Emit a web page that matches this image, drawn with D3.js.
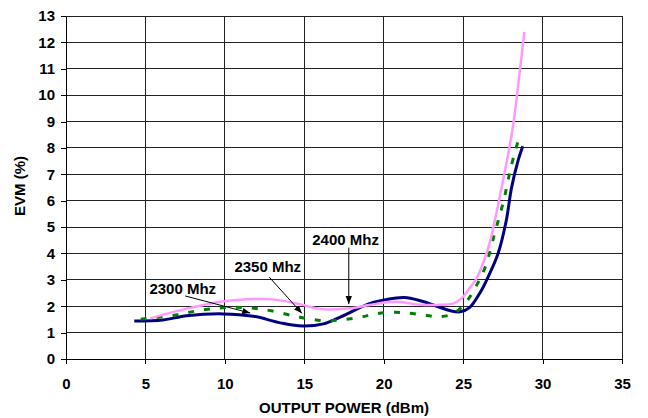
<!DOCTYPE html>
<html>
<head>
<meta charset="utf-8">
<script src="https://cdn.jsdelivr.net/npm/d3@7"></script>
<style>
  html, body { margin: 0; padding: 0; background: #fff; }
  svg { display: block; }
  text { font-family: "Liberation Sans", Arial, sans-serif; font-weight: bold; fill: #000; }
</style>
</head>
<body>
<svg id="chart" width="648" height="418"></svg>
<script>
// ---- data ----
const xTicks = [0, 5, 10, 15, 20, 25, 30, 35];
const yTicks = [0, 1, 2, 3, 4, 5, 6, 7, 8, 9, 10, 11, 12, 13];
const xTitle = "OUTPUT POWER (dBm)";
const yTitle = "EVM (%)";

const seriesNames = ["2300 Mhz", "2350 Mhz", "2400 Mhz"];

const power2300 = [4.3, 6.1, 7.6, 9.9, 11.8, 13.5, 14.9, 16.2, 17.3, 19.1, 20.2, 21.3, 22.3, 23.3, 24.2, 24.8, 25.4, 26.1, 26.6, 27.2, 27.7, 28.05, 28.45, 28.75];
const evm2300   = [1.44, 1.48, 1.64, 1.71, 1.62, 1.37, 1.25, 1.33, 1.60, 2.10, 2.26, 2.33, 2.21, 2.01, 1.83, 1.79, 1.95, 2.55, 3.15, 4.0, 5.2, 6.5, 7.5, 8.06];

const power2350 = [4.7, 6.8, 8.6, 10.5, 12.4, 14.3, 15.5, 16.6, 18.5, 19.4, 20.5, 21.4, 22.5, 23.5, 24.4, 25.2, 25.85, 26.4, 27.0, 27.55, 28.0, 28.55];
const evm2350   = [1.51, 1.66, 1.86, 1.96, 1.88, 1.64, 1.50, 1.45, 1.58, 1.70, 1.77, 1.75, 1.67, 1.60, 1.73, 2.17, 2.8, 3.5, 4.8, 6.0, 7.25, 8.45];

const power2400 = [5.3, 7.4, 8.6, 9.7, 11.4, 13.0, 14.7, 16.0, 17.9, 19.1, 20.8, 22.1, 23.3, 24.4, 24.9, 25.4, 25.85, 26.6, 27.0, 27.6, 28.1, 28.5, 28.85];
const evm2400   = [1.54, 1.88, 2.04, 2.17, 2.26, 2.26, 2.08, 1.90, 1.92, 2.05, 2.17, 2.07, 2.05, 2.11, 2.30, 2.68, 3.06, 4.26, 5.27, 7.04, 8.68, 10.57, 12.4];

// ---- layout ----
const svg = d3.select("#chart");
const plotL = 66, plotR = 622, plotT = 16, plotB = 359;

const x = d3.scaleLinear().domain([0, 35]).range([plotL, plotR]);
const y = d3.scaleLinear().domain([0, 13]).range([plotB, plotT]);

// grid
const grid = svg.append("g").attr("shape-rendering", "crispEdges");
grid.selectAll("line.h").data(yTicks.filter(d => d > 0)).enter().append("line")
  .attr("x1", plotL).attr("x2", plotR)
  .attr("y1", d => y(d)).attr("y2", d => y(d))
  .attr("stroke", "#222").attr("stroke-width", 1);
grid.selectAll("line.v").data(xTicks.filter(d => d > 0)).enter().append("line")
  .attr("y1", plotT).attr("y2", plotB)
  .attr("x1", d => x(d)).attr("x2", d => x(d))
  .attr("stroke", "#222").attr("stroke-width", 1);

// axes
const xAxis = svg.append("g").attr("transform", `translate(0,${plotB})`)
  .call(d3.axisBottom(x).tickValues(xTicks).tickSize(5).tickPadding(14).tickSizeOuter(0));
const yAxis = svg.append("g").attr("transform", `translate(${plotL},0)`)
  .call(d3.axisLeft(y).tickValues(yTicks).tickSize(5).tickPadding(6).tickSizeOuter(0));
[xAxis, yAxis].forEach(a => {
  a.attr("font-family", null).attr("font-size", null);
  a.selectAll("path,line").attr("stroke", "#000").attr("shape-rendering", "crispEdges");
  a.selectAll("text").style("font-size", "15px");
});

// titles
svg.append("text").attr("x", (plotL + plotR) / 2).attr("y", 413)
  .attr("text-anchor", "middle").style("font-size", "15px").text(xTitle);
svg.append("text").attr("transform", "translate(25,186) rotate(-90)")
  .attr("text-anchor", "middle").style("font-size", "15px").text(yTitle);

// series
const line = d3.line().x(d => x(d[0])).y(d => y(d[1])).curve(d3.curveCatmullRom.alpha(0.5));
const s2300 = d3.zip(power2300, evm2300);
const s2350 = d3.zip(power2350, evm2350);
const s2400 = d3.zip(power2400, evm2400);

svg.append("path").datum(s2300).attr("d", line)
  .attr("fill", "none").attr("stroke", "#000080").attr("stroke-width", 3);
svg.append("path").datum(s2350).attr("d", line)
  .attr("fill", "none").attr("stroke", "#008000").attr("stroke-width", 3)
  .attr("stroke-dasharray", "6,10");
svg.append("path").datum(s2400).attr("d", line)
  .attr("fill", "none").attr("stroke", "#ff99ff").attr("stroke-width", 2.5);

// annotations
const defs = svg.append("defs");
defs.append("marker").attr("id", "arr").attr("viewBox", "0 0 10 10")
  .attr("refX", 10).attr("refY", 5).attr("markerWidth", 8).attr("markerHeight", 8)
  .attr("markerUnits", "userSpaceOnUse").attr("orient", "auto")
  .append("path").attr("d", "M0,1 L10,5 L0,9 Z").attr("fill", "#000");

const notes = [
  { name: seriesNames[0], tx: 5.25, ty: 2.46, ax1: 7.5, ay1: 2.39, ax2: 11.6, ay2: 1.74 },
  { name: seriesNames[1], tx: 10.6, ty: 3.31, ax1: 12.8, ay1: 3.10, ax2: 14.85, ay2: 1.73 },
  { name: seriesNames[2], tx: 15.5, ty: 4.32, ax1: 17.8, ay1: 4.22, ax2: 17.8, ay2: 2.08 }
];
notes.forEach(n => {
  svg.append("text").attr("x", x(n.tx)).attr("y", y(n.ty)).style("font-size", "15px").text(n.name);
  svg.append("line").attr("x1", x(n.ax1)).attr("y1", y(n.ay1)).attr("x2", x(n.ax2)).attr("y2", y(n.ay2))
    .attr("stroke", "#000").attr("stroke-width", 1).attr("marker-end", "url(#arr)");
});
</script>
</body>
</html>
